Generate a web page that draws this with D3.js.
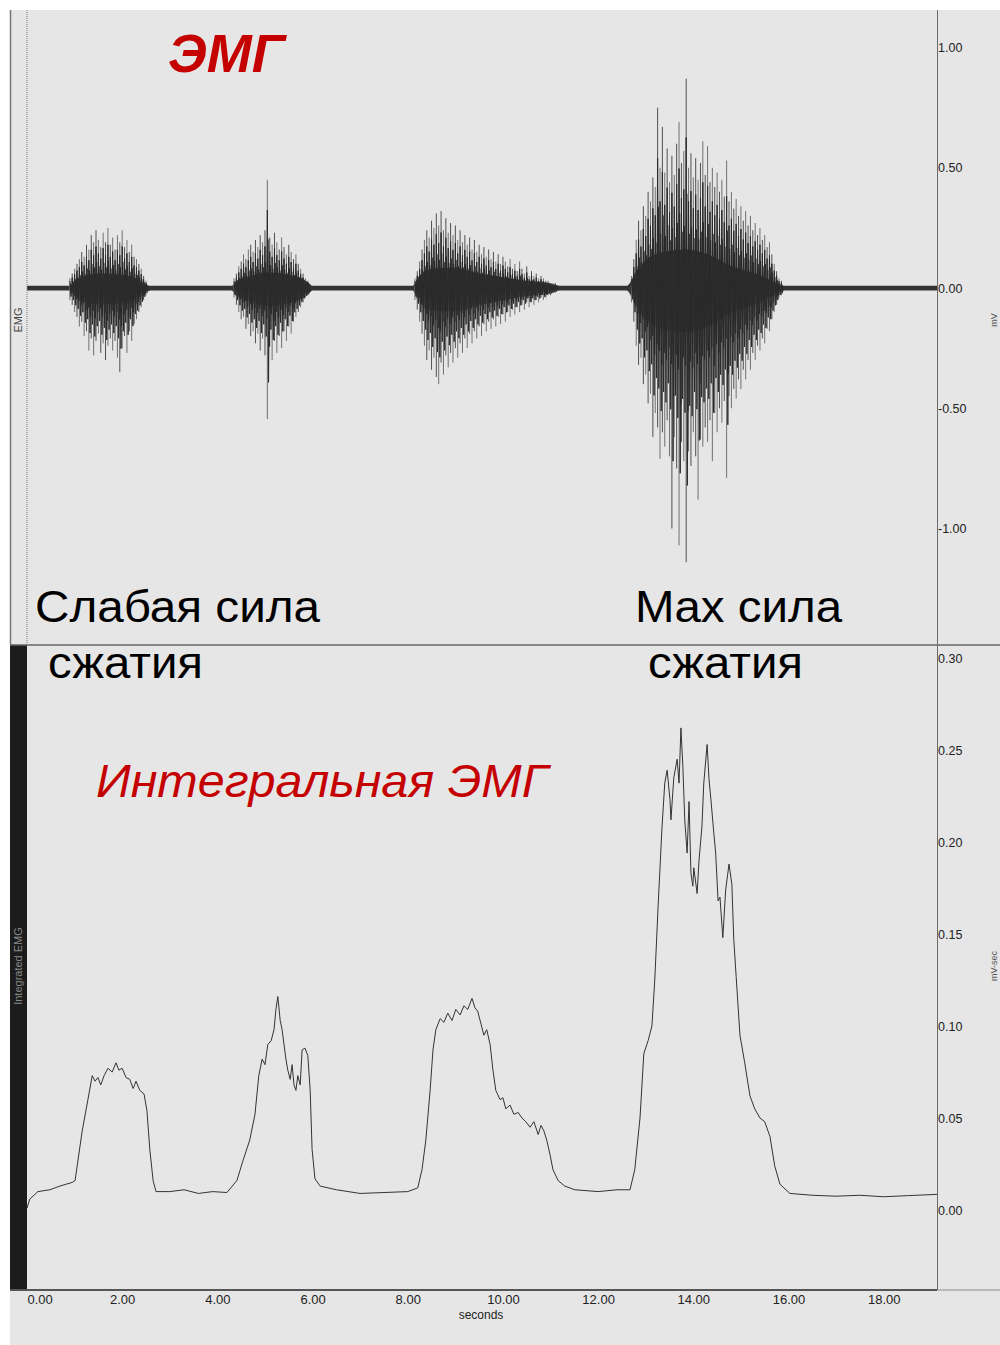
<!DOCTYPE html>
<html>
<head>
<meta charset="utf-8">
<script src="https://cdn.jsdelivr.net/npm/d3@7"></script>
<style>
  body { margin: 0; background: #fff; }
  svg { display: block; }
</style>
</head>
<body>
<svg id="chart" width="1000" height="1345"></svg>
<script>
// ---- Raw EMG: dense core envelope (half-width, mV) ----
const coreT   = [0, 0.9, 1.0, 1.2, 1.5, 2.0, 2.3, 2.5, 2.6, 4.3, 4.4, 4.7, 5.0, 5.5, 5.9, 6.0, 8.1, 8.2, 8.5, 9.0, 9.5, 10.0, 10.5, 11.0, 11.2, 12.6, 12.8, 13.2, 13.8, 14.3, 14.8, 15.3, 15.7, 15.9, 19.12];
const coreAmp = [0.009, 0.009, 0.03, 0.05, 0.06, 0.055, 0.04, 0.015, 0.009, 0.009, 0.03, 0.05, 0.065, 0.055, 0.025, 0.009, 0.009, 0.04, 0.08, 0.085, 0.06, 0.045, 0.03, 0.02, 0.009, 0.009, 0.07, 0.14, 0.16, 0.14, 0.09, 0.06, 0.025, 0.009, 0.009];

// ---- Raw EMG: spike extremes per 0.05 s bin, one array pair per contraction ----
const spikeStep = 0.05;
const burstStart = [0.90, 4.35, 8.15, 12.70];
const burst1Hi = [0.04,0.06,0.08,0.10,0.12,0.15,0.13,0.18,0.16,0.22,0.19,0.24,0.20,0.17,0.23,0.19,0.25,0.18,0.21,0.16,0.22,0.19,0.24,0.17,0.20,0.15,0.18,0.13,0.12,0.10,0.08,0.05,0.03];
const burst1Lo = [-0.05,-0.07,-0.10,-0.12,-0.16,-0.14,-0.20,-0.18,-0.26,-0.21,-0.28,-0.22,-0.19,-0.27,-0.23,-0.30,-0.24,-0.21,-0.26,-0.22,-0.29,-0.35,-0.25,-0.20,-0.27,-0.18,-0.22,-0.15,-0.13,-0.10,-0.08,-0.05,-0.03];
const burst2Hi = [0.04,0.06,0.09,0.11,0.14,0.12,0.16,0.18,0.15,0.20,0.17,0.22,0.19,0.24,0.45,0.21,0.18,0.23,0.19,0.16,0.21,0.17,0.14,0.18,0.15,0.12,0.14,0.10,0.08,0.06,0.04,0.03];
const burst2Lo = [-0.04,-0.07,-0.10,-0.13,-0.12,-0.17,-0.15,-0.20,-0.18,-0.23,-0.19,-0.26,-0.21,-0.28,-0.545,-0.24,-0.30,-0.22,-0.27,-0.20,-0.25,-0.18,-0.22,-0.16,-0.19,-0.14,-0.12,-0.10,-0.08,-0.06,-0.04,-0.03];
const burst3Hi = [0.04,0.07,0.11,0.16,0.20,0.24,0.21,0.28,0.25,0.31,0.26,0.32,0.24,0.29,0.23,0.27,0.22,0.26,0.20,0.24,0.19,0.22,0.18,0.21,0.16,0.20,0.15,0.18,0.14,0.17,0.13,0.16,0.12,0.15,0.11,0.14,0.10,0.13,0.11,0.09,0.12,0.08,0.10,0.07,0.11,0.08,0.06,0.09,0.05,0.07,0.05,0.06,0.04,0.05,0.04,0.03,0.03,0.02,0.02,0.02];
const burst3Lo = [-0.05,-0.09,-0.14,-0.19,-0.24,-0.30,-0.26,-0.34,-0.29,-0.37,-0.40,-0.31,-0.36,-0.28,-0.33,-0.27,-0.31,-0.25,-0.29,-0.23,-0.27,-0.21,-0.25,-0.19,-0.23,-0.18,-0.21,-0.16,-0.20,-0.15,-0.18,-0.14,-0.17,-0.13,-0.16,-0.12,-0.15,-0.11,-0.14,-0.10,-0.12,-0.09,-0.11,-0.08,-0.10,-0.07,-0.09,-0.06,-0.08,-0.06,-0.07,-0.05,-0.06,-0.04,-0.05,-0.04,-0.03,-0.03,-0.02,-0.02];
const burst4Hi = [0.05,0.12,0.20,0.28,0.24,0.34,0.30,0.40,0.36,0.46,0.42,0.75,0.50,0.67,0.48,0.58,0.44,0.55,0.47,0.60,0.69,0.52,0.57,0.87,0.50,0.56,0.46,0.54,0.45,0.52,0.61,0.47,0.59,0.44,0.50,0.42,0.48,0.40,0.45,0.38,0.53,0.36,0.40,0.33,0.37,0.30,0.34,0.28,0.32,0.26,0.30,0.24,0.27,0.22,0.25,0.20,0.22,0.17,0.19,0.14,0.10,0.07,0.04,0.03];
const burst4Lo = [-0.06,-0.14,-0.24,-0.32,-0.29,-0.40,-0.36,-0.48,-0.44,-0.62,-0.52,-0.58,-0.71,-0.60,-0.66,-0.55,-0.70,-1.00,-0.62,-0.75,-1.07,-0.64,-0.72,-1.14,-0.68,-0.74,-0.60,-0.70,-0.88,-0.63,-0.66,-0.58,-0.64,-0.55,-0.72,-0.52,-0.60,-0.50,-0.56,-0.47,-0.79,-0.45,-0.50,-0.42,-0.46,-0.38,-0.42,-0.34,-0.38,-0.30,-0.34,-0.27,-0.30,-0.24,-0.26,-0.21,-0.23,-0.17,-0.18,-0.13,-0.10,-0.07,-0.04,-0.03];

// ---- Integrated EMG (mV·s) ----
const intT = [
  0.00,0.06,0.23,0.48,0.69,0.95,
  1.01,1.16,1.28,1.37,1.43,1.49,1.55,1.62,1.70,1.79,1.87,1.93,2.00,2.08,2.16,2.23,2.29,2.37,2.46,2.52,2.58,2.65,2.71,
  3.00,3.30,3.60,3.90,4.20,
  4.41,4.54,4.68,4.79,4.87,4.94,5.00,5.06,5.13,5.19,5.23,5.27,5.32,5.36,5.40,5.44,5.48,5.53,5.57,5.61,5.65,5.69,5.74,5.78,5.84,5.90,5.95,5.99,6.05,6.16,
  6.50,7.00,7.50,8.00,
  8.21,8.30,8.38,8.47,8.53,8.59,8.68,8.76,8.84,8.93,9.01,9.10,9.18,9.26,9.35,9.41,9.47,9.54,9.60,9.66,9.73,9.79,9.85,9.94,10.00,10.06,10.15,10.23,10.32,10.40,10.48,10.57,10.65,10.74,10.80,10.86,10.92,10.99,11.05,11.16,11.30,11.51,
  12.00,12.40,
  12.67,12.77,12.88,12.96,13.05,13.13,13.19,13.26,13.34,13.40,13.45,13.51,13.53,13.59,13.66,13.70,13.74,13.78,13.82,13.87,13.91,13.95,13.99,14.01,14.08,14.12,14.18,14.22,14.29,14.33,14.37,14.43,14.47,14.52,14.56,14.62,14.68,14.75,14.81,14.85,14.90,14.98,15.08,15.19,15.29,15.40,15.50,15.61,15.71,15.82,16.03,
  16.50,17.00,17.50,18.00,18.50,19.12];
const intV = [
  0.001,0.006,0.010,0.011,0.013,0.015,
  0.016,0.043,0.060,0.073,0.070,0.072,0.068,0.073,0.077,0.075,0.080,0.076,0.077,0.072,0.071,0.066,0.070,0.065,0.063,0.054,0.033,0.016,0.010,
  0.010,0.011,0.009,0.010,0.0095,
  0.016,0.027,0.038,0.052,0.073,0.082,0.079,0.090,0.092,0.098,0.109,0.116,0.103,0.098,0.090,0.082,0.076,0.071,0.079,0.068,0.065,0.073,0.068,0.087,0.088,0.084,0.065,0.033,0.017,0.013,
  0.011,0.009,0.0095,0.010,
  0.012,0.022,0.038,0.065,0.087,0.098,0.104,0.102,0.107,0.103,0.109,0.106,0.111,0.109,0.115,0.110,0.108,0.101,0.095,0.098,0.090,0.076,0.065,0.060,0.061,0.055,0.057,0.052,0.053,0.050,0.048,0.045,0.048,0.041,0.046,0.043,0.038,0.030,0.022,0.016,0.013,0.011,
  0.010,0.011,
  0.011,0.022,0.050,0.085,0.092,0.100,0.125,0.165,0.207,0.232,0.239,0.223,0.212,0.235,0.245,0.232,0.262,0.241,0.212,0.194,0.222,0.183,0.176,0.186,0.172,0.190,0.208,0.232,0.253,0.234,0.223,0.205,0.194,0.168,0.170,0.148,0.174,0.188,0.177,0.147,0.127,0.095,0.080,0.062,0.055,0.050,0.048,0.040,0.024,0.014,0.009,
  0.008,0.0075,0.008,0.0072,0.0078,0.0085];

// ---- Axes ----
const timeTicks = [0, 2, 4, 6, 8, 10, 12, 14, 16, 18];
const emgTicks = [1.0, 0.5, 0.0, -0.5, -1.0];
const intTicks = [0.30, 0.25, 0.20, 0.15, 0.10, 0.05, 0.00];

const FONT = "'Liberation Sans', Arial, Helvetica, sans-serif";
const svg = d3.select("#chart");

// panel geometry
const plotL = 27, plotR = 937;
const topY0 = 10, topY1 = 645, botY1 = 1290;

const x = d3.scaleLinear().domain([0, 19.12]).range([plotL, plotR]);
const yEmg = d3.scaleLinear().domain([-1, 1]).range([528.5, 47.5]);
const yInt = d3.scaleLinear().domain([0, 0.30]).range([1210, 658]);

// background
svg.append("rect").attr("x", 10).attr("y", 10).attr("width", 990).attr("height", 1335).attr("fill", "#e6e6e6");

// clips
const defs = svg.append("defs");
defs.append("clipPath").attr("id", "clipTop").append("rect")
  .attr("x", plotL).attr("y", topY0).attr("width", plotR - plotL).attr("height", topY1 - topY0);
defs.append("clipPath").attr("id", "clipBot").append("rect")
  .attr("x", plotL).attr("y", topY1).attr("width", plotR - plotL).attr("height", botY1 - topY1);

// ---- raw EMG ----
const gTop = svg.append("g").attr("clip-path", "url(#clipTop)");
const core = coreT.map((t, i) => ({ t, a: coreAmp[i] }));
gTop.append("path")
  .datum(core)
  .attr("d", d3.area().x(d => x(d.t)).y0(d => yEmg(-d.a * 1.15)).y1(d => yEmg(d.a)).curve(d3.curveMonotoneX))
  .attr("fill", "#333");

const bursts = [[burst1Hi, burst1Lo], [burst2Hi, burst2Lo], [burst3Hi, burst3Lo], [burst4Hi, burst4Lo]];
bursts.forEach(([hi, lo], b) => {
  const pts = hi.map((h, i) => ({ t: burstStart[b] + i * spikeStep, hi: h, lo: lo[i] }));
  // individual spikes
  gTop.append("g").selectAll("line").data(pts).join("line")
    .attr("x1", d => x(d.t)).attr("x2", d => x(d.t))
    .attr("y1", d => yEmg(d.hi)).attr("y2", d => yEmg(d.lo))
    .attr("stroke", (d, i) => i % 2 ? "#505050" : "#707070")
    .attr("stroke-width", 1);
  // oscillation between the extremes, drawn at a fraction of the amplitude
  [0.72, 0.45].forEach((k, j) => {
    const zig = [];
    pts.forEach(d => {
      zig.push({ t: d.t + j * spikeStep / 4, v: d.hi * k });
      zig.push({ t: d.t + spikeStep / 2 + j * spikeStep / 4, v: d.lo * k });
    });
    gTop.append("path").datum(zig)
      .attr("d", d3.line().x(d => x(d.t)).y(d => yEmg(d.v)))
      .attr("fill", "none").attr("stroke", "#2a2a2a").attr("stroke-width", 1);
  });
});

// ---- integrated EMG ----
const gBot = svg.append("g").attr("clip-path", "url(#clipBot)");
const integ = intT.map((t, i) => ({ t, v: intV[i] }));
gBot.append("path").datum(integ)
  .attr("d", d3.line().x(d => x(d.t)).y(d => yInt(d.v)))
  .attr("fill", "none").attr("stroke", "#333").attr("stroke-width", 1);

// ---- frame ----
svg.append("rect").attr("x", 10).attr("y", topY1).attr("width", plotL - 10).attr("height", botY1 - topY1).attr("fill", "#1c1c1c");
svg.append("line").attr("x1", 10.5).attr("x2", 10.5).attr("y1", topY0).attr("y2", topY1).attr("stroke", "#777").attr("stroke-width", 1.5);
svg.append("line").attr("x1", plotL).attr("x2", plotL).attr("y1", topY0).attr("y2", topY1).attr("stroke", "#8a8a8a").attr("stroke-width", 1.2).attr("stroke-dasharray", "1,1");
svg.append("line").attr("x1", 10).attr("x2", 1000).attr("y1", topY1).attr("y2", topY1).attr("stroke", "#666").attr("stroke-width", 1.5);
svg.append("line").attr("x1", 10).attr("x2", plotR).attr("y1", botY1).attr("y2", botY1).attr("stroke", "#555").attr("stroke-width", 2);
svg.append("line").attr("x1", plotR).attr("x2", 1000).attr("y1", botY1).attr("y2", botY1).attr("stroke", "#aaa").attr("stroke-width", 1.5);
svg.append("line").attr("x1", plotR + 0.5).attr("x2", plotR + 0.5).attr("y1", topY0).attr("y2", botY1).attr("stroke", "#6a6a6a").attr("stroke-width", 1);

// ---- axes ----
const fmt = d => d.toFixed(2);
function styleAxis(g, size) {
  g.select(".domain").remove();
  g.selectAll("text").attr("font-family", FONT).attr("font-size", size).attr("fill", "#222");
}
svg.append("g").attr("transform", `translate(${plotR},0)`)
  .call(d3.axisRight(yEmg).tickValues(emgTicks).tickFormat(fmt).tickSize(0).tickPadding(1))
  .call(g => styleAxis(g, 12.5));
svg.append("g").attr("transform", `translate(${plotR},0)`)
  .call(d3.axisRight(yInt).tickValues(intTicks).tickFormat(fmt).tickSize(0).tickPadding(1))
  .call(g => styleAxis(g, 12.5));
svg.append("g").attr("transform", `translate(0,${botY1})`)
  .call(d3.axisBottom(x).tickValues(timeTicks).tickFormat(fmt).tickSize(0).tickPadding(5))
  .call(g => styleAxis(g, 13))
  .call(g => g.selectAll(".tick").filter(d => d === 0).select("text").attr("text-anchor", "start").attr("x", 0));

svg.append("text").attr("x", 481).attr("y", 1319).attr("text-anchor", "middle")
  .attr("font-family", FONT).attr("font-size", 12).attr("fill", "#222").text("seconds");

// channel labels
svg.append("text").attr("transform", "translate(22,320) rotate(-90)").attr("text-anchor", "middle")
  .attr("font-family", FONT).attr("font-size", 11).attr("fill", "#444").text("EMG");
svg.append("text").attr("transform", "translate(22,966) rotate(-90)").attr("text-anchor", "middle")
  .attr("font-family", FONT).attr("font-size", 11).attr("fill", "#8a8a8a").text("Integrated EMG");
svg.append("text").attr("transform", "translate(997,320) rotate(-90)").attr("text-anchor", "middle")
  .attr("font-family", FONT).attr("font-size", 9).attr("fill", "#555").text("mV");
svg.append("text").attr("transform", "translate(997,966) rotate(-90)").attr("text-anchor", "middle")
  .attr("font-family", FONT).attr("font-size", 9).attr("fill", "#555").text("mV-sec");

// ---- annotations ----
const RED = "#c40000";
svg.append("text").attr("x", 168).attr("y", 72).attr("font-family", FONT).attr("font-size", 54)
  .attr("font-weight", "bold").attr("font-style", "italic").attr("fill", RED).text("ЭМГ");
svg.append("text").attr("x", 96).attr("y", 797).attr("font-family", FONT).attr("font-size", 47)
  .attr("font-style", "italic").attr("fill", RED)
  .attr("textLength", 452).attr("lengthAdjust", "spacingAndGlyphs").text("Интегральная ЭМГ");
const black = [["Слабая сила", 35, 622, 285], ["сжатия", 48, 678, 155], ["Max сила", 635, 622, 207], ["сжатия", 648, 678, 155]];
black.forEach(([s, tx, ty, w]) => svg.append("text").attr("x", tx).attr("y", ty)
  .attr("font-family", FONT).attr("font-size", 45).attr("fill", "#000")
  .attr("textLength", w).attr("lengthAdjust", "spacingAndGlyphs").text(s));
</script>
</body>
</html>
